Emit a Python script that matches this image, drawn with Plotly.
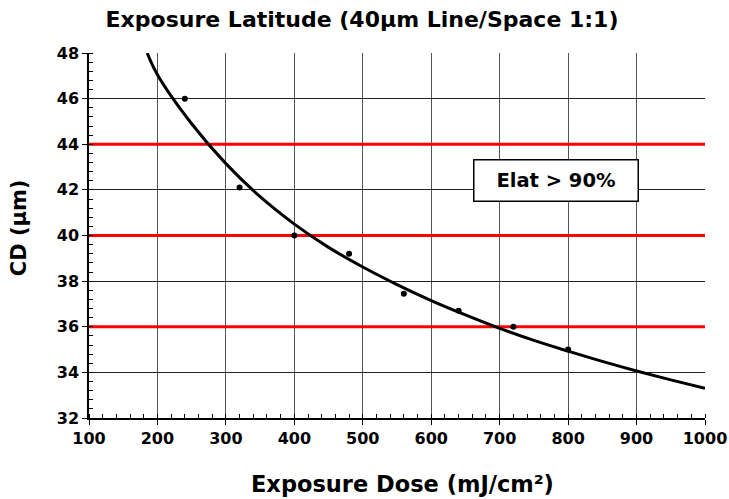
import plotly.graph_objects as go

# measured points
dose = [240, 320, 400, 480, 560, 640, 720, 800]
cd = [46.0, 42.1, 40.0, 39.2, 37.45, 36.7, 36.0, 35.0]

# fitted curve
curve_x = [185, 200, 250, 300, 350, 400, 450, 500, 550, 600, 650, 700, 750, 800, 850, 900, 950, 1000]
curve_y = [48.0, 47.05, 44.9, 43.15, 41.7, 40.5, 39.48, 38.62, 37.85, 37.15, 36.52, 35.93, 35.4, 34.93, 34.48, 34.06, 33.67, 33.3]

limits = [36, 40, 44]
label_text = "Elat > 90%"
label_pos = (783, 42.4)

FONT = "DejaVu Sans"

fig = go.Figure()
for v in limits:
    fig.add_trace(go.Scatter(x=[100, 1000], y=[v, v], mode="lines",
                             line=dict(color="#FF0000", width=3), showlegend=False,
                             hoverinfo="skip"))
fig.add_trace(go.Scatter(x=curve_x, y=curve_y, mode="lines", line_shape="spline",
                         line=dict(color="black", width=3), showlegend=False))
fig.add_trace(go.Scatter(x=dose, y=cd, mode="markers",
                         marker=dict(color="black", size=6), showlegend=False))

fig.add_annotation(x=label_pos[0], y=label_pos[1], text="<b>" + label_text + "</b>",
                   showarrow=False, font=dict(family=FONT, size=19.5, color="black"),
                   bgcolor="white", bordercolor="black", borderwidth=1.5,
                   width=161, height=38)

# axis titles as annotations (paper coords)
fig.add_annotation(xref="paper", yref="paper", x=0.5097, y=-0.181, yanchor="middle",
                   text="<b>Exposure Dose (mJ/cm²)</b>", showarrow=False,
                   font=dict(family=FONT, size=22.5, color="black"))
fig.add_annotation(xref="paper", yref="paper", x=-0.1136, y=0.52, xanchor="center",
                   yanchor="middle",
                   text="<b>CD (µm)</b>", showarrow=False, textangle=-90,
                   font=dict(family=FONT, size=21, color="black"))

fig.update_layout(
    width=729, height=499,
    margin=dict(l=89, r=24, t=53, b=81),
    paper_bgcolor="white", plot_bgcolor="white",
    font=dict(family=FONT, color="black"),
    title=dict(text="<b>Exposure Latitude (40µm Line/Space 1:1)</b>",
               x=0.4966, xanchor="center", y=0.962, yanchor="middle",
               font=dict(family=FONT, size=22, color="black")),
)
fig.update_xaxes(
    range=[100, 1000], dtick=100, tick0=100,
    showgrid=True, gridcolor="#555", gridwidth=1,
    showline=True, linecolor="black", linewidth=1.5, mirror=False,
    ticks="outside", ticklen=5, tickcolor="black",
    tickfont=dict(family=FONT, size=16, color="black"),
    tickprefix="<b>", ticksuffix="</b>",
    minor=dict(dtick=20, ticks="inside", ticklen=4, tickcolor="black", showgrid=False),
    zeroline=False, automargin=False,
)
fig.update_yaxes(
    range=[32, 48], dtick=2,
    showgrid=True, gridcolor="#222", gridwidth=1,
    showline=True, linecolor="black", linewidth=1.5,
    ticks="outside", ticklen=5, tickcolor="black",
    tickfont=dict(family=FONT, size=16, color="black"),
    tickprefix="<b>", ticksuffix="</b>",
    minor=dict(dtick=0.4, ticks="inside", ticklen=4, tickcolor="black", showgrid=False),
    zeroline=False, automargin=False,
)

fig.write_html("out.html", config={"displayModeBar": False},
               post_script="document.body.style.margin='0px';")
